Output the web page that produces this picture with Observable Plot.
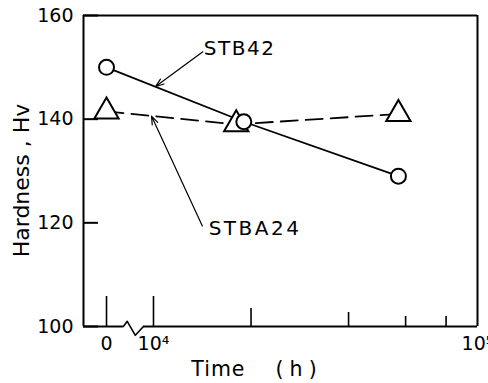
<!DOCTYPE html>
<html><head><meta charset="utf-8">
<script src="https://cdn.jsdelivr.net/npm/d3@7"></script>
<script src="https://cdn.jsdelivr.net/npm/@observablehq/plot@0.6"></script>
<style>body{margin:0;background:#fff}</style>
</head><body><div id="chart"></div>
<script>
// Data
const seriesNames = ["STB42", "STBA24"];
const stb42Time = [0, 19000, 57000];
const stb42Hv = [150, 139.5, 129];
const stba24Time = [0, 18000, 57000];
const stba24Hv = [141.5, 139, 141];
const majorTicks = [0, 1e4, 1e5];
const minorTicks = [2e4, 4e4, 6e4, 8e4];
const yTicks = [100, 120, 140, 160];
// annotation positions (time h, Hv)
const labels = [
  {text: "STB42", t: 14300, hv: 153.7},
  {text: "STBA24", t: 14800, hv: 118.8}
];
const arrows = [
  {t1: 14200, hv1: 153.0, t2: 10150, hv2: 146.3},
  {t1: 14150, hv1: 119.4, t2: 9860, hv2: 140.6}
];
const xTitle = "Time\u00a0\u00a0\u00a0\u00a0(\u2009h\u2009)";
const yTitle = "Hardness , Hv";

// broken axis: "0" is drawn a little left of 10^4 on the log axis
const ZERO_POS = 3.855;
const xpos = t => t === 0 ? ZERO_POS : Math.log10(t);
const X_MIN = 3.784, X_MAX = 5;
const BREAK_A = 3.907, BREAK_B = 3.969;
const zig = [[3.907, 100], [3.919, 101], [3.944, 98.3], [3.969, 100]];

const mk = (times, hv, name) => times.map((t, i) => ({t, hv: hv[i], name}));
const s1 = mk(stb42Time, stb42Hv, seriesNames[0]);
const s2 = mk(stba24Time, stba24Hv, seriesNames[1]);

const fmt = t => t === 0 ? "0" : t === 1e4 ? "10\u2074" : "10\u2075";
const font = "DejaVu Sans";

const chart = Plot.plot({
  width: 488, height: 383,
  marginLeft: 83, marginRight: 11, marginTop: 15, marginBottom: 57,
  style: {fontFamily: font, fontSize: "19px", color: "#000", background: "#fff"},
  x: {type: "linear", domain: [X_MIN, X_MAX]},
  y: {domain: [100, 160]},
  marks: [
    // frame
    Plot.ruleX([X_MIN, X_MAX], {x: d => d, y1: 100, y2: 160, strokeWidth: 2}),
    Plot.ruleY([160], {x1: X_MIN, x2: X_MAX, strokeWidth: 2}),
    Plot.ruleY([[X_MIN, BREAK_A], [BREAK_B, X_MAX]], {y: () => 100, x1: d => d[0], x2: d => d[1], strokeWidth: 2}),
    Plot.line(zig, {x: d => d[0], y: d => d[1], strokeWidth: 1.6}),
    // inward ticks
    Plot.axisY(yTicks, {anchor: "left", tickSize: -15, text: null, strokeWidth: 2}),
    Plot.axisY(yTicks, {anchor: "left", tickSize: 0, tickPadding: 10, fontSize: 19}),
    Plot.axisX([0, 1e4].map(xpos), {anchor: "bottom", tickSize: -30, text: null, strokeWidth: 1.6}),
    Plot.axisX([minorTicks[0]].map(xpos), {anchor: "bottom", tickSize: -18, text: null, strokeWidth: 1.6}),
    Plot.axisX([minorTicks[1]].map(xpos), {anchor: "bottom", tickSize: -14, text: null, strokeWidth: 1.6}),
    Plot.axisX(minorTicks.slice(2).map(xpos), {anchor: "bottom", tickSize: -10, text: null, strokeWidth: 1.6}),
    Plot.axisX(majorTicks.map(xpos), {anchor: "bottom", tickSize: 0, tickPadding: 10, fontSize: 19,
      tickFormat: (d, i) => fmt(majorTicks[i]), label: null}),
    // axis titles
    Plot.text([xTitle], {frameAnchor: "bottom", textAnchor: "middle", lineAnchor: "middle",
      dx: -26, dy: 43, fontSize: 20.5}),
    Plot.text([yTitle], {frameAnchor: "left", textAnchor: "middle", lineAnchor: "middle",
      rotate: -90, dx: -62, dy: 9.5, fontSize: 22}),
    // series
    Plot.line(s2, {x: d => xpos(d.t), y: "hv", strokeWidth: 1.8, strokeDasharray: "17,8"}),
    Plot.line(s1, {x: d => xpos(d.t), y: "hv", strokeWidth: 1.8}),
    Plot.dot(s2, {x: d => xpos(d.t), y: "hv", symbol: "triangle", r: 9, fill: "white", stroke: "black", strokeWidth: 2}),
    Plot.dot(s1, {x: d => xpos(d.t), y: "hv", symbol: "circle", r: 7.5, fill: "white", stroke: "black", strokeWidth: 2}),
    // annotations
    Plot.arrow(arrows, {x1: d => xpos(d.t1), y1: "hv1", x2: d => xpos(d.t2), y2: "hv2", strokeWidth: 1.2, headLength: 11, headAngle: 40}),
    Plot.text(labels, {x: d => xpos(d.t), y: "hv", text: "text", textAnchor: "start", fontSize: 20})
  ]
});
const spacing = {"STB42": "1.5px", "STBA24": "2.5px"};
spacing[xTitle] = "1px";
d3.select(chart).selectAll("text").each(function () {
  const s = spacing[this.textContent];
  if (s) this.style.letterSpacing = s;
});
document.getElementById("chart").appendChild(chart);
</script>
</body></html>
